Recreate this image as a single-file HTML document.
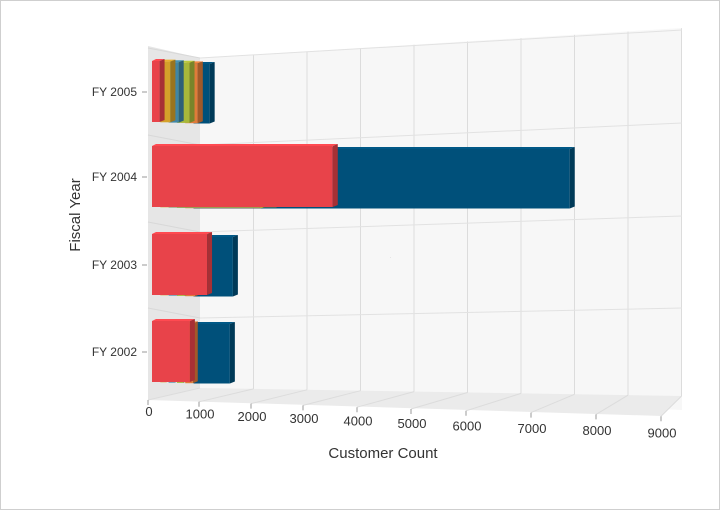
<!DOCTYPE html>
<html><head><meta charset="utf-8"><style>
body{margin:0;background:#fff;}
#wrap{position:relative;width:720px;height:510px;}
svg text{font-family:"Liberation Sans",sans-serif;}
</style></head><body>
<div id="wrap">
<svg id="chart" width="720" height="510">
<rect x="0.5" y="0.5" width="719" height="509" fill="#fff" stroke="#cfcfcf"/>
<polygon points="200,58 682,28 682,410 200,388" fill="#f7f7f7"/>
<polygon points="148,46 200,58 200,388 148,400" fill="#e6e6e6"/>
<polygon points="148,400 200,388 682,396 662,416" fill="#ebebeb"/>
<g id="grid"></g>
<g id="bars"></g>
<g id="axes"></g>
<text x="390" y="258" font-size="3" fill="#000">.</text>
<text x="383" y="458" font-size="15" fill="#333" text-anchor="middle">Customer Count</text>
<text transform="translate(80,215) rotate(-90)" font-size="15" fill="#333" text-anchor="middle">Fiscal Year</text>
</svg></div>
<script>
const categories=["FY 2005","FY 2004","FY 2003","FY 2002"];
const seriesColors=["#00507a","#e07b39","#a8b83a","#3f86a6","#d4a12a","#e8434a"];
const blueVals=[320,7450,780,720];
const orangeVals=[250,1500,200,150];
const greenVals=[250,1700,150,120];
const tealVals=[200,1800,150,120];
const goldVals=[200,2300,150,120];
const redVals=[150,3580,1090,750];
const series=[blueVals,orangeVals,greenVals,tealVals,goldVals,redVals];
const tickVals=[0,1000,2000,3000,4000,5000,6000,7000,8000,9000];
const catCenters=[92,177,265,352];
const NS="http://www.w3.org/2000/svg";
function mk(t,a,p){const e=document.createElementNS(NS,t);for(const k in a)e.setAttribute(k,a[k]);p.appendChild(e);return e;}
function xs(v,depth){return 152+depth*8.3+v*0.0505;}
function shade(c,f){const n=parseInt(c.slice(1),16);let r=(n>>16)&255,g=(n>>8)&255,b=n&255;return `rgb(${Math.min(255,Math.round(r*f))},${Math.min(255,Math.round(g*f))},${Math.min(255,Math.round(b*f))})`;}
const grid=document.getElementById('grid'),bars=document.getElementById('bars'),axes=document.getElementById('axes');
const frontTicks=[148,199,251,303,357,411,466,531,596,661];
tickVals.forEach((v,i)=>{
 const bx=200+i*53.5;
 if(i>0){const l=mk('line',{x1:bx,y1:58-i*3.3,x2:bx,y2:388+i*0.9,stroke:'#dcdcdc'},grid);
 }
 const fx=frontTicks[i],fy=400+i*1.8;
 const fl=mk('line',{x1:bx,y1:388+i*0.9,x2:fx,y2:fy,stroke:'#dcdcdc'},grid);
 
 const tk=mk('line',{x1:fx,y1:fy,x2:fx,y2:fy+5,stroke:'#999'},axes);
 
 const t=mk('text',{x:fx+1,y:fy+16+i*0.6,'font-size':13,fill:'#333','text-anchor':'middle'},axes);
 
 t.textContent=v;
});
[58,145,232,318].forEach((y,i)=>{
 const l=mk('line',{x1:148,y1:y-10,x2:200,y2:y,stroke:'#d8d8d8'},grid);
 
 const l2=mk('line',{x1:200,y1:y,x2:682,y2:y-28+i*6,stroke:'#e2e2e2'},grid);
 
});
categories.forEach((c,ci)=>{
 const t=mk('text',{x:137,y:catCenters[ci]+4,'font-size':12,fill:'#333','text-anchor':'end'},axes);
 
 t.textContent=c;
 const tk=mk('line',{x1:142,y1:catCenters[ci],x2:147,y2:catCenters[ci],stroke:'#999'},axes);
 
});
series.forEach((vals,si)=>{
 const depth=series.length-1-si;const col=seriesColors[si];
 vals.forEach((v,ci)=>{
  const x0=xs(0,depth),x1=xs(v,depth);
  const y0=catCenters[ci]-31+depth*0.6,y1=catCenters[ci]+30+depth*0.3;
  const g=mk('g',{},bars);
  
  
  mk('polygon',{points:`${x0},${y0} ${x0+4},${y0-2} ${x1+5},${y0-2} ${x1},${y0}`,fill:shade(col,1.1)},g);
  mk('rect',{x:x0,y:y0,width:Math.max(0,x1-x0),height:y1-y0,fill:col},g);
  mk('polygon',{points:`${x1},${y0} ${x1+5},${y0-2} ${x1+5},${y1-2} ${x1},${y1}`,fill:shade(col,0.72)},g);
 });
});
</script>
</body></html>
